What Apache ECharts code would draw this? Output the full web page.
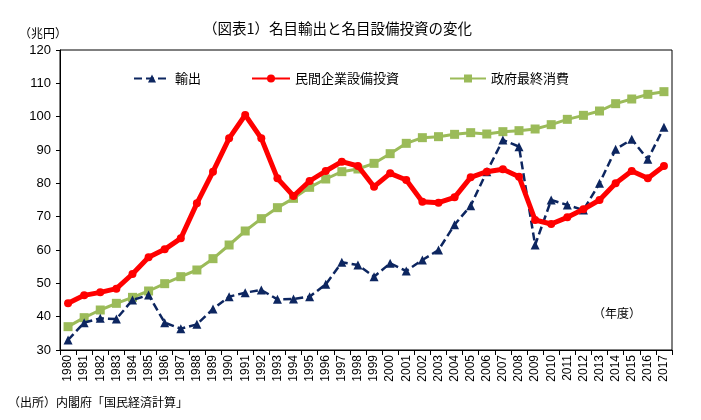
<!DOCTYPE html>
<html><head><meta charset="utf-8">
<script src="https://cdn.jsdelivr.net/npm/echarts@6/dist/echarts.min.js"></script>
<style>html,body{margin:0;padding:0;background:#fff}#c{width:701px;height:420px}</style>
</head><body><div id="c"></div>
<script>
const years = ['1980','1981','1982','1983','1984','1985','1986','1987','1988','1989','1990','1991','1992','1993','1994','1995','1996','1997','1998','1999','2000','2001','2002','2003','2004','2005','2006','2007','2008','2009','2010','2011','2012','2013','2014','2015','2016','2017'];
const exportsVals = [33,38.2,39.5,39.3,45,46.5,38.2,36.4,37.7,42.3,46,47.2,48,45.2,45.3,46,49.7,56.3,55.5,52,56,53.7,57,60,67.6,73.3,83.5,93,91,61.5,75,73.5,72,80,90.2,93.2,87.2,96.8];
const capexVals = [44,46.4,47.3,48.4,52.8,57.8,60.2,63.5,74,83.5,93.5,100.5,93.5,81.5,76.2,80.7,83.7,86.5,85.2,79,83,81,74.5,74.2,75.8,81.8,83.5,84.2,82,69,67.8,69.8,72.2,75,80,83.7,81.5,85.2];
const govVals = [37,39.7,42,44,45.8,47.7,49.9,52,54,57.4,61.5,65.7,69.4,72.7,75.5,78.8,81.3,83.5,84.3,86,88.9,92,93.7,94,94.7,95.2,94.8,95.5,95.8,96.3,97.6,99.2,100.4,101.7,103.9,105.3,106.7,107.5];
const yTicks = {min:30, max:120, interval:10};
const names = ['輸出','民間企業設備投資','政府最終消費'];

const jp = '"Noto Sans CJK JP", "Liberation Sans", sans-serif';
const num = '"Liberation Sans", Arial, sans-serif';
const chart = echarts.init(document.getElementById('c'), null, {renderer:'canvas'});
function lg(name, left, w){
  return {data:[name], left:left, top:67, itemWidth:w, itemHeight:10,
    textStyle:{fontFamily:jp, fontSize:13, color:'#000'}, itemGap:5, selectedMode:false};
}
chart.setOption({
  animation:false,
  title:[
    {text:'（図表1）名目輸出と名目設備投資の変化', left:198, top:16, textStyle:{fontFamily:jp, fontSize:14.5, fontWeight:'normal', color:'#000'}},
    {text:'（兆円）', left:14, top:22, textStyle:{fontFamily:jp, fontSize:12, fontWeight:'normal', color:'#000'}},
    {text:'（年度）', left:588, top:302, textStyle:{fontFamily:jp, fontSize:12, fontWeight:'normal', color:'#000'}},
    {text:'（出所）内閣府「国民経済計算」', left:3, top:391, textStyle:{fontFamily:jp, fontSize:12, fontWeight:'normal', color:'#000'}}
  ],
  legend:[lg(names[0],128,36), lg(names[1],246,38), lg(names[2],444,36)],
  grid:{left:60, right:29, top:50, bottom:70, show:true, borderColor:'#000', borderWidth:1, containLabel:false},
  xAxis:{type:'category', data:years, boundaryGap:true,
    axisLine:{lineStyle:{color:'#000', width:1}},
    axisTick:{show:true, inside:false, length:5, alignWithLabel:false, lineStyle:{color:'#000'}},
    axisLabel:{rotate:90, interval:0, fontFamily:num, fontSize:12, color:'#000', margin:5}},
  yAxis:{type:'value', min:yTicks.min, max:yTicks.max, interval:yTicks.interval,
    axisLine:{show:true, lineStyle:{color:'#000', width:1}},
    axisTick:{show:true, inside:false, length:4, lineStyle:{color:'#000'}},
    splitLine:{show:false},
    axisLabel:{fontFamily:num, fontSize:13, color:'#000', margin:9}},
  series:[
    {name:names[0], type:'line', data:exportsVals, symbol:'triangle', symbolSize:9, z:3,
      lineStyle:{color:'#0d2660', width:2.5, type:[8,4]}, itemStyle:{color:'#0d2660'}},
    {name:names[1], type:'line', data:capexVals, symbol:'circle', symbolSize:8, z:4,
      lineStyle:{color:'#ff0000', width:5}, itemStyle:{color:'#ff0000'}},
    {name:names[2], type:'line', data:govVals, symbol:'rect', symbolSize:9, z:2,
      lineStyle:{color:'#9bbb59', width:3}, itemStyle:{color:'#9bbb59'}}
  ]
});
</script></body></html>
